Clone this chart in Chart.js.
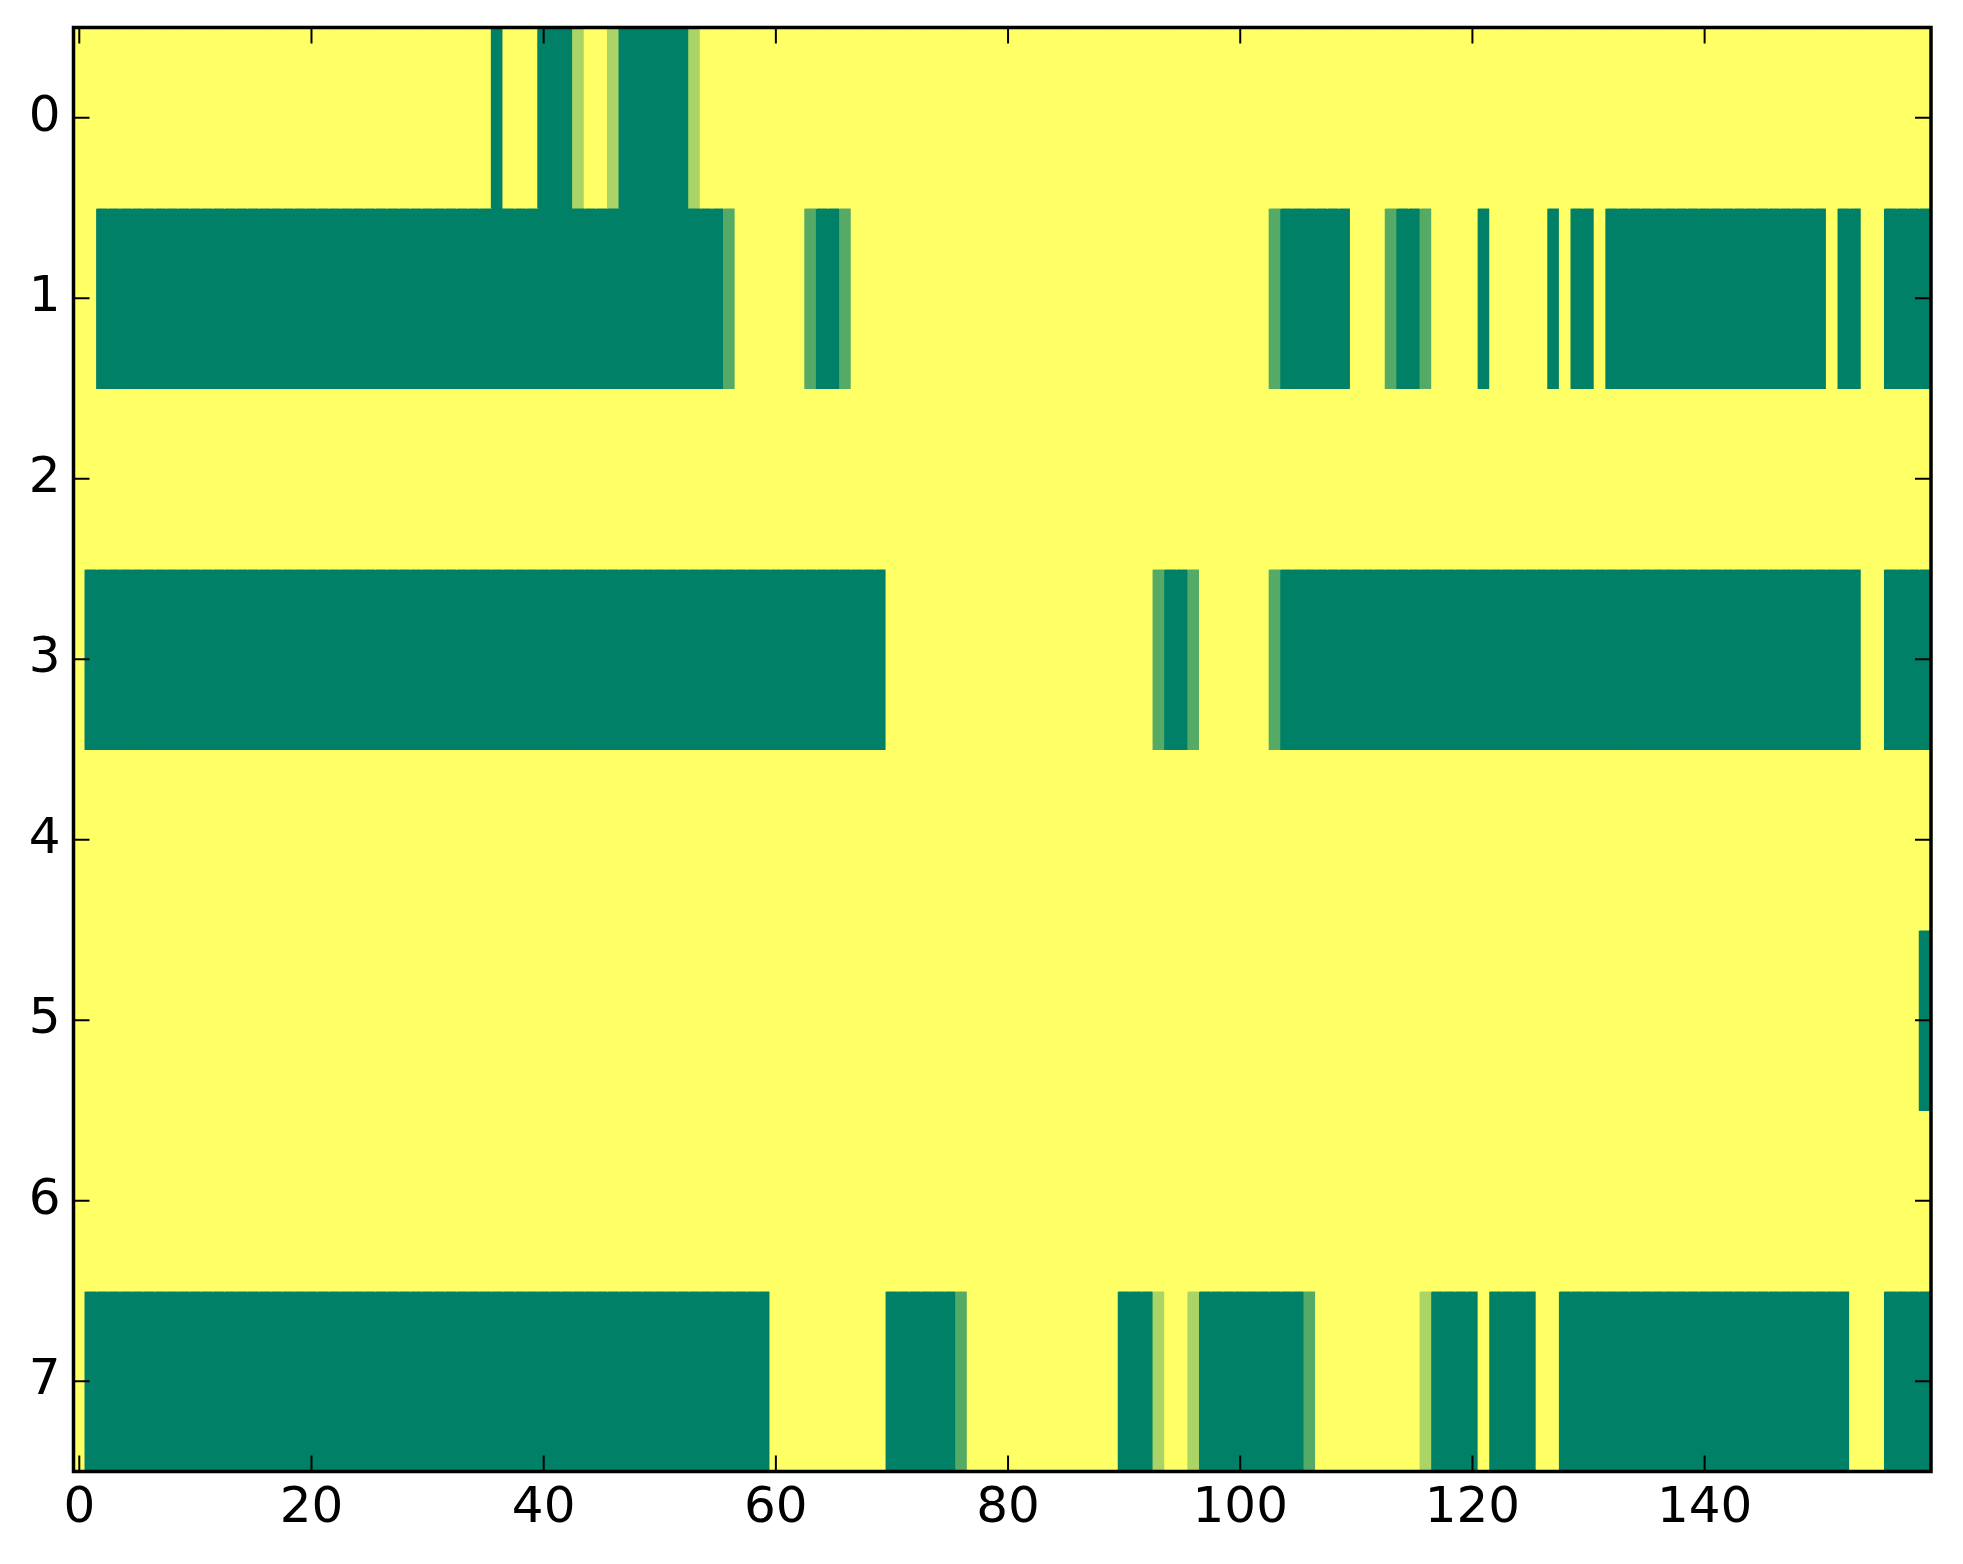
<!DOCTYPE html>
<html><head><meta charset="utf-8">
<script src="https://cdn.jsdelivr.net/npm/chart.js@4.4.1/dist/chart.umd.min.js"></script>
<style>html,body{margin:0;padding:0;background:#fff;}#c{display:block;}</style>
</head><body>
<canvas id="c" width="1963" height="1564" style="width:1963px;height:1564px"></canvas>
<script>
// Row labels (y axis) and column categories (x axis)
const rowLabels = ['0','1','2','3','4','5','6','7'];
const colLabels = Array.from({length:160}, (_, i) => String(i));
const xTickLabels = ['0','20','40','60','80','100','120','140'];
const yTickValues = [0,1,2,3,4,5,6,7];

// Cell levels per row, 160 columns each (chunks of 10).
// digit d means value d/3 : 0 = 0.0, 1 = 0.33, 2 = 0.67, 3 = 1.0
const row0 = '3333333333 3333333333 3333333333 3333330333 0002332000 0002333333 3333333333 3333333333 3333333333 3333333333 3333333333 3333333333 3333333333 3333333333 3333333333 3333333333';
const row1 = '3300000000 0000000000 0000000000 0000000000 0000000000 0000001333 3331001333 3333333333 3333333333 3333333333 3331000000 3331001333 3033333030 0300000000 0000000000 0300330000';
const row2 = '3333333333 3333333333 3333333333 3333333333 3333333333 3333333333 3333333333 3333333333 3333333333 3333333333 3333333333 3333333333 3333333333 3333333333 3333333333 3333333333';
const row3 = '3000000000 0000000000 0000000000 0000000000 0000000000 0000000000 0000000000 3333333333 3333333333 3331001333 3331000000 0000000000 0000000000 0000000000 0000000000 0000330000';
const row4 = '3333333333 3333333333 3333333333 3333333333 3333333333 3333333333 3333333333 3333333333 3333333333 3333333333 3333333333 3333333333 3333333333 3333333333 3333333333 3333333333';
const row5 = '3333333333 3333333333 3333333333 3333333333 3333333333 3333333333 3333333333 3333333333 3333333333 3333333333 3333333333 3333333333 3333333333 3333333333 3333333333 3333333330';
const row6 = '3333333333 3333333333 3333333333 3333333333 3333333333 3333333333 3333333333 3333333333 3333333333 3333333333 3333333333 3333333333 3333333333 3333333333 3333333333 3333333333';
const row7 = '3000000000 0000000000 0000000000 0000000000 0000000000 0000000000 3333333333 0000001333 3333333333 0002332000 0000001333 3333332000 0300003300 0000000000 0000000000 0003330000';

const rowStrings = [row0,row1,row2,row3,row4,row5,row6,row7];
const rows = rowStrings.map(s => s.replace(/\s+/g,'').split('').map(ch => Number(ch) / 3));

// matplotlib "summer" colormap
function summer(v){
  const r = Math.round(255 * v);
  const g = Math.round(255 * (0.5 + 0.5 * v));
  return `rgb(${r},${g},102)`;
}

const FONT = {family:'DejaVu Sans', size:50};

const frameTicks = {
  id:'frameTicks',
  afterDraw(chart){
    const {ctx, chartArea:a, scales:{x, y}} = chart;
    ctx.save();
    ctx.strokeStyle = '#000';
    ctx.lineWidth = 2;
    const line = (x1,y1,x2,y2) => { ctx.beginPath(); ctx.moveTo(x1,y1); ctx.lineTo(x2,y2); ctx.stroke(); };
    xTickLabels.forEach(l => {
      const px = x.getPixelForValue(colLabels.indexOf(l));
      line(px, a.bottom, px, a.bottom - 16);
      line(px, a.top, px, a.top + 16);
    });
    yTickValues.forEach(v => {
      const py = y.getPixelForValue(v);
      line(a.left, py, a.left + 16, py);
      line(a.right, py, a.right - 16, py);
    });
    ctx.lineWidth = 3.5;
    ctx.strokeRect(a.left, a.top, a.right - a.left, a.bottom - a.top);
    ctx.restore();
  }
};

new Chart(document.getElementById('c'), {
  type:'bar',
  data:{
    labels: colLabels,
    datasets: rows.map((vals, r) => ({
      label: rowLabels[r],
      data: vals.map(() => [r - 0.5, r + 0.5]),
      backgroundColor: vals.map(summer),
      borderWidth: 0,
      barPercentage: 1,
      categoryPercentage: 1,
      grouped: false,
      inflateAmount: 0.6
    }))
  },
  options:{
    responsive:false,
    devicePixelRatio:1,
    animation:false,
    events:[],
    layout:{padding:{left:0, top:27.5, right:32, bottom:0}},
    plugins:{legend:{display:false}, tooltip:{enabled:false}},
    scales:{
      x:{
        type:'category',
        offset:true,
        grid:{display:false, drawTicks:false},
        border:{display:false},
        ticks:{
          autoSkip:false, maxRotation:0, minRotation:0, padding:8,
          font:FONT, color:'#000',
          callback(val){ const l = this.getLabelForValue(val); return xTickLabels.includes(l) ? l : ''; }
        },
        afterFit(s){ s.height = 92.5; s.paddingLeft = 0; s.paddingRight = 0; s.paddingTop = 0; s.paddingBottom = 0; }
      },
      y:{
        type:'linear',
        reverse:true,
        min:-0.5, max:7.5,
        grid:{display:false, drawTicks:false},
        border:{display:false},
        afterBuildTicks(s){ s.ticks = yTickValues.map(v => ({value:v})); },
        ticks:{padding:13, font:FONT, color:'#000', callback:v => String(v)},
        afterFit(s){ s.width = 73.5; s.paddingTop = 0; s.paddingBottom = 0; s.paddingLeft = 0; s.paddingRight = 0; }
      }
    }
  },
  plugins:[frameTicks]
});
</script></body></html>
